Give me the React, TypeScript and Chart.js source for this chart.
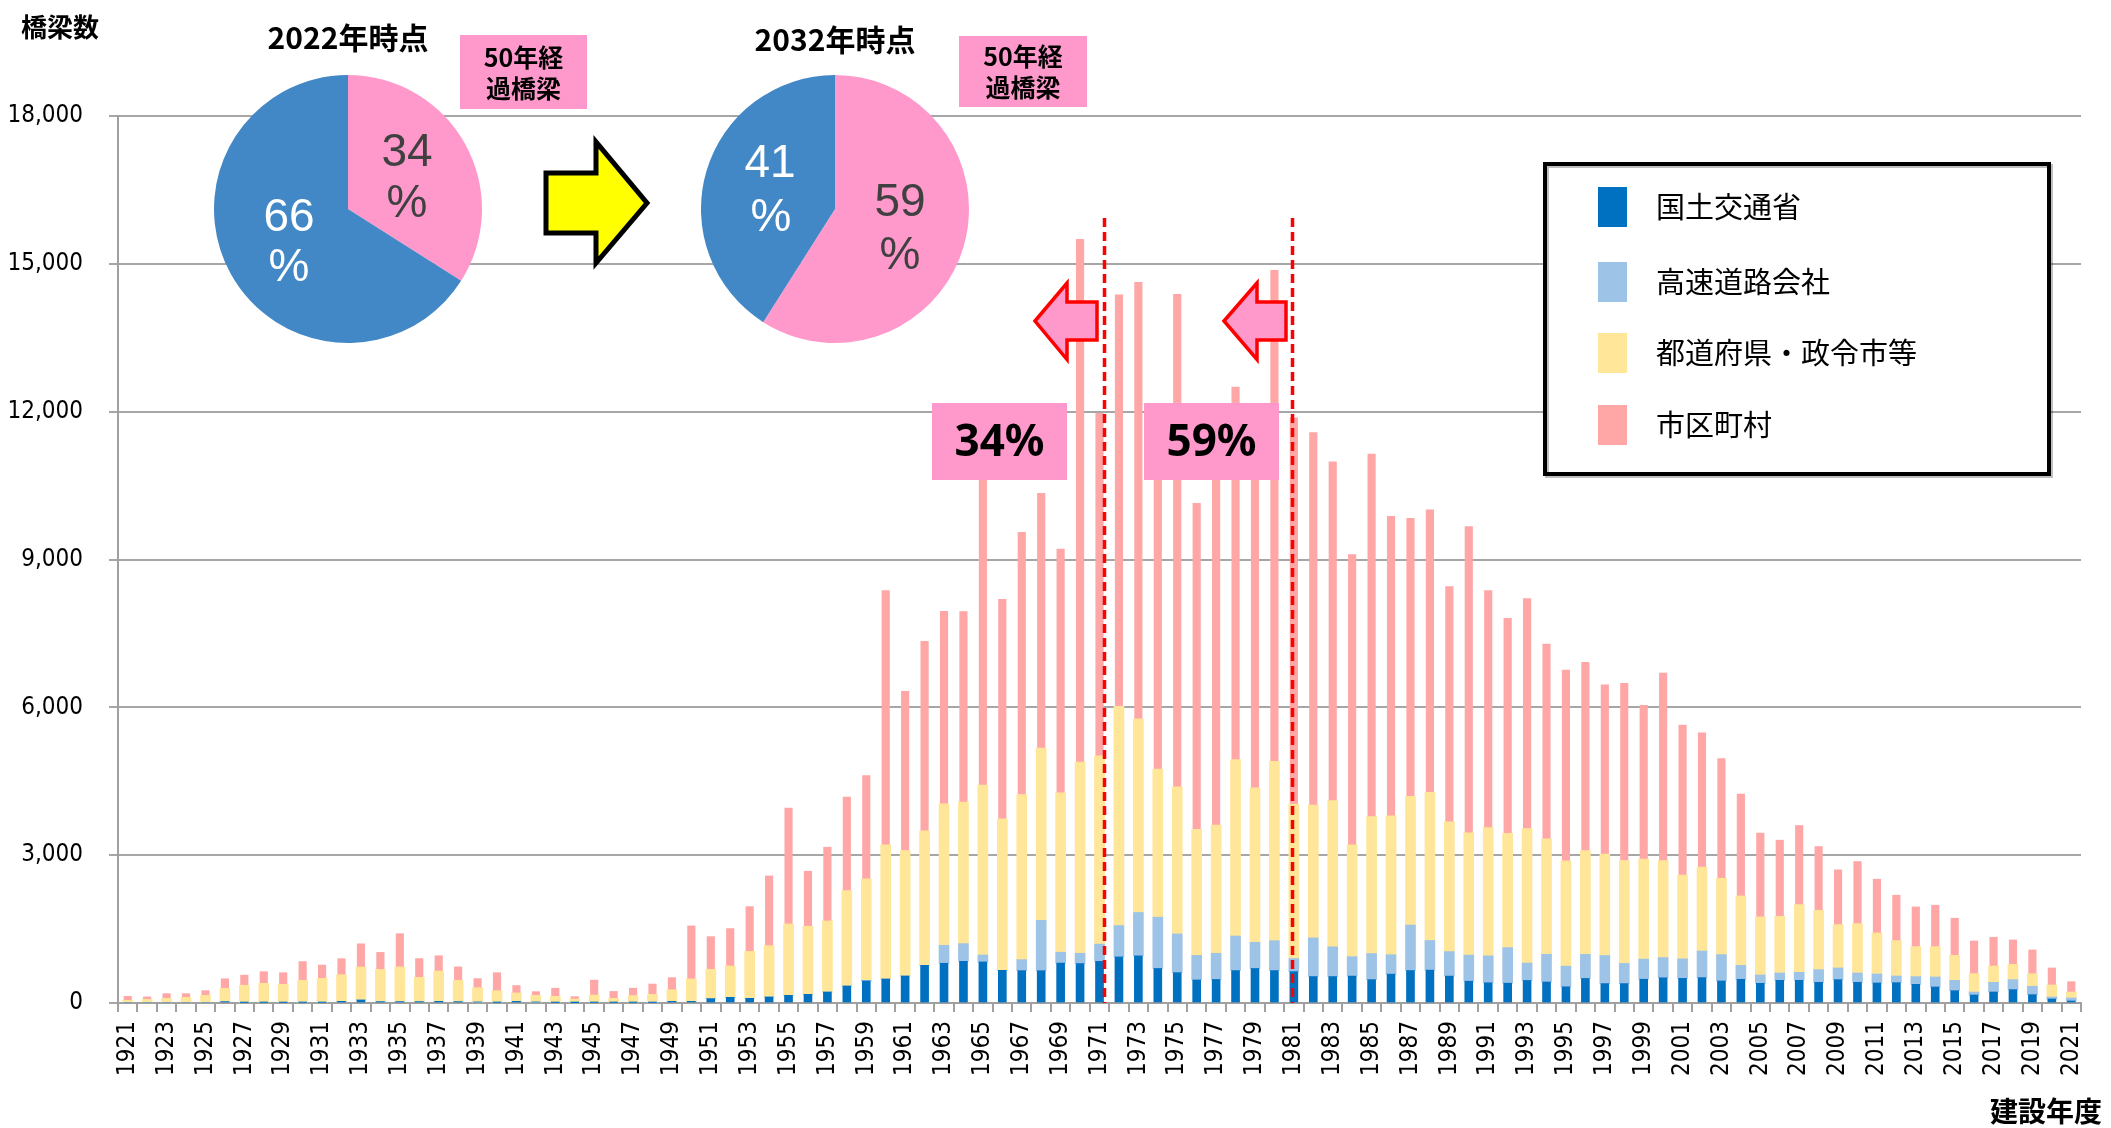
import React, { useEffect, useRef } from 'react';
import { Chart, registerables } from 'chart.js';

Chart.register(...registerables);

// ---- data ----
const years = [
  '1921','1922','1923','1924','1925','1926','1927','1928','1929','1930',
  '1931','1932','1933','1934','1935','1936','1937','1938','1939','1940',
  '1941','1942','1943','1944','1945','1946','1947','1948','1949','1950',
  '1951','1952','1953','1954','1955','1956','1957','1958','1959','1960',
  '1961','1962','1963','1964','1965','1966','1967','1968','1969','1970',
  '1971','1972','1973','1974','1975','1976','1977','1978','1979','1980',
  '1981','1982','1983','1984','1985','1986','1987','1988','1989','1990',
  '1991','1992','1993','1994','1995','1996','1997','1998','1999','2000',
  '2001','2002','2003','2004','2005','2006','2007','2008','2009','2010',
  '2011','2012','2013','2014','2015','2016','2017','2018','2019','2020','2021',
];

const mlit = [
  0, 0, 0, 0, 0, 27, 10, 10, 10, 10,
  10, 34, 61, 27, 27, 27, 34, 27, 20, 10,
  34, 20, 10, 5, 10, 10, 10, 10, 34, 34,
  88, 115, 95, 122, 156, 176, 223, 345, 447, 487,
  548, 765, 806, 846, 833, 663, 656, 655, 810, 800,
  845, 935, 956, 701, 616, 467, 478, 658, 701, 658,
  637, 537, 537, 546, 474, 586, 659, 667, 546, 442,
  410, 402, 458, 426, 329, 498, 394, 394, 482, 511,
  500, 515, 447, 481, 399, 460, 460, 420, 474, 420,
  406, 413, 379, 325, 250, 162, 223, 271, 169, 81, 41,
];

const expressway = [
  0, 0, 0, 0, 0, 0, 0, 0, 0, 0,
  0, 0, 0, 0, 0, 0, 0, 0, 0, 0,
  0, 0, 0, 0, 0, 0, 0, 0, 0, 0,
  0, 0, 0, 0, 0, 0, 0, 0, 13, 0,
  0, 0, 365, 359, 142, 0, 224, 1023, 220, 209,
  350, 637, 881, 1041, 786, 499, 531, 701, 531, 606,
  266, 784, 603, 394, 530, 394, 923, 602, 498, 530,
  546, 722, 353, 562, 418, 490, 570, 409, 409, 411,
  396, 540, 535, 284, 170, 149, 163, 257, 237, 189,
  183, 135, 156, 203, 210, 61, 197, 203, 170, 41, 61,
];

const prefecture = [
  55, 75, 95, 115, 155, 270, 350, 390, 370, 450,
  490, 540, 670, 655, 705, 495, 615, 435, 290, 240,
  170, 135, 125, 75, 150, 85, 140, 165, 235, 455,
  596, 636, 954, 1042, 1448, 1381, 1442, 1936, 2058, 2722,
  2546, 2728, 2871, 2870, 3446, 3074, 3351, 3497, 3237, 3878,
  3820, 4450, 3930, 3005, 2984, 2560, 2602, 3579, 3133, 3642,
  3133, 2695, 2966, 2272, 2779, 2819, 2610, 3004, 2634, 2481,
  2602, 2321, 2731, 2345, 2136, 2104, 2056, 2088, 2032, 1966,
  1698, 1704, 1550, 1408, 1178, 1151, 1374, 1205, 880, 1002,
  833, 718, 609, 616, 508, 373, 331, 311, 257, 244, 121,
];

const municipal = [
  80, 50, 95, 75, 95, 195, 205, 235, 235, 380,
  270, 325, 470, 345, 675, 380, 310, 270, 185, 365,
  150, 75, 165, 50, 305, 140, 150, 210, 245, 1075,
  663, 759, 907, 1415, 2350, 1117, 1497, 1896, 2099, 5159,
  3229, 3846, 3906, 3866, 6579, 4455, 5321, 5170, 4944, 10610,
  6950, 8347, 8857, 6853, 9993, 6616, 7589, 7562, 7535, 9962,
  7837, 7559, 6874, 5887, 7356, 6079, 5646, 5734, 4771, 6216,
  4810, 4361, 4666, 3951, 3871, 3823, 3437, 3598, 3116, 3806,
  3048, 2722, 2430, 2065, 1699, 1544, 1605, 1293, 1110, 1259,
  1090, 921, 806, 840, 752, 663, 583, 495, 480, 345, 210,
];

const seriesNames = ['国土交通省', '高速道路会社', '都道府県・政令市等', '市区町村'];
const seriesColors = ['#0070C0', '#9DC3E6', '#FFE699', '#FFA6A6'];
const yMax = 18000;
const yStep = 3000;

const pie2022 = [34, 66];
const pie2032 = [59, 41];
const pieSliceNames = ['50年経過橋梁', 'その他'];
const pieColors = ['#FF99CC', '#4287C6'];

const CJK = '"Noto Sans CJK JP", sans-serif';
const TICKFONT = '"DejaVu Sans Condensed", "DejaVu Sans", sans-serif';

function drawBlockArrow(ctx: CanvasRenderingContext2D, pts: number[][], fill: string, stroke: string, lw: number) {
  ctx.save();
  ctx.beginPath();
  ctx.moveTo(pts[0][0], pts[0][1]);
  for (let i = 1; i < pts.length; i++) ctx.lineTo(pts[i][0], pts[i][1]);
  ctx.closePath();
  ctx.fillStyle = fill;
  ctx.fill();
  ctx.lineJoin = 'miter';
  ctx.lineWidth = lw;
  ctx.strokeStyle = stroke;
  ctx.stroke();
  ctx.restore();
}

const overlayPlugin = {
  id: 'overlay',
  afterDraw(chart: any) {
    const ctx: CanvasRenderingContext2D = chart.ctx;
    ctx.save();
    ctx.textAlign = 'center';
    ctx.textBaseline = 'middle';
    ctx.fillStyle = '#000';

    // axis titles
    ctx.font = `bold 26px ${CJK}`;
    ctx.fillText('橋梁数', 60, 27);
    ctx.font = `bold 28px ${CJK}`;
    ctx.textAlign = 'right';
    ctx.fillText('建設年度', 2102, 1111);
    ctx.textAlign = 'center';

    // pie titles
    ctx.font = `bold 30px ${CJK}`;
    ctx.fillText('2022年時点', 348, 38);
    ctx.fillText('2032年時点', 835, 40);

    // "50年経過橋梁" boxes
    const boxes = [[460, 35, 127, 74], [959, 36, 128, 71]];
    boxes.forEach(([x, y, w, h]) => {
      ctx.fillStyle = '#FF99CC';
      ctx.fillRect(x, y, w, h);
      ctx.fillStyle = '#000';
      ctx.font = `bold 25px ${CJK}`;
      ctx.fillText('50年経', x + w / 2, y + h / 2 - 15);
      ctx.fillText('過橋梁', x + w / 2, y + h / 2 + 16);
    });

    // yellow arrow
    drawBlockArrow(ctx, [[546, 173], [596, 173], [596, 142], [647, 203], [596, 263], [596, 233], [546, 233]], '#FFFF00', '#000', 5);

    // red dashed lines
    ctx.save();
    ctx.strokeStyle = '#FF0000';
    ctx.lineWidth = 3.5;
    ctx.setLineDash([9, 5]);
    [1104.5, 1292.5].forEach((x) => {
      ctx.beginPath();
      ctx.moveTo(x, 218);
      ctx.lineTo(x, 1003);
      ctx.stroke();
    });
    ctx.restore();

    // pink left arrows
    [[1035, 1067, 1097], [1224, 1257, 1286]].forEach(([tip, back, end]) => {
      drawBlockArrow(ctx, [[tip, 321], [back, 283], [back, 302], [end, 302], [end, 340], [back, 340], [back, 359.5]], '#FF99CC', '#FF0000', 3.5);
    });

    // percent boxes
    [[932, '34%'], [1144, '59%']].forEach(([x, t]) => {
      ctx.fillStyle = '#FF99CC';
      ctx.fillRect(x as number, 403, 135, 77);
      ctx.fillStyle = '#000';
      ctx.font = 'bold 44px "Noto Sans", sans-serif';
      ctx.fillText(t as string, (x as number) + 67.5, 443);
    });

    // legend
    ctx.fillStyle = '#fff';
    ctx.fillRect(1545, 164, 504, 310);
    ctx.strokeStyle = 'rgba(0,0,0,0.25)';
    ctx.lineWidth = 4;
    ctx.strokeRect(1547, 166, 504, 310);
    ctx.strokeStyle = '#000';
    ctx.lineWidth = 4;
    ctx.strokeRect(1545, 164, 504, 310);
    const itemY = [207, 282, 353, 425];
    chart.data.datasets.forEach((ds: any, i: number) => {
      ctx.fillStyle = ds.backgroundColor;
      ctx.fillRect(1598, itemY[i] - 20, 29, 40);
      ctx.fillStyle = '#000';
      ctx.textAlign = 'left';
      ctx.font = `29px ${CJK}`;
      ctx.fillText(ds.label, 1656, itemY[i]);
    });
    ctx.restore();
  },
};

function PieChart(props: { data: number[]; cx: number; cy: number; texts: { t: string; dx: number; dy: number; c: string }[] }) {
  const ref = useRef<HTMLCanvasElement>(null);
  useEffect(() => {
    if (!ref.current) return;
    const labelPlugin = {
      id: 'pieLabels',
      afterDraw(chart: any) {
        const ctx = chart.ctx;
        ctx.save();
        ctx.textAlign = 'center';
        ctx.textBaseline = 'middle';
        ctx.font = '46px "Liberation Sans", Arial, sans-serif';
        props.texts.forEach((o) => {
          ctx.fillStyle = o.c;
          ctx.fillText(o.t, 140 + o.dx, 140 + o.dy);
        });
        ctx.restore();
      },
    };
    const chart = new Chart(ref.current, {
      type: 'pie',
      data: {
        labels: pieSliceNames,
        datasets: [{ data: props.data, backgroundColor: pieColors, borderWidth: 0, hoverOffset: 0, offset: 0 }],
      },
      options: {
        responsive: false,
        animation: false,
        devicePixelRatio: 1,
        events: [],
        layout: { padding: 6 },
        plugins: { legend: { display: false }, tooltip: { enabled: false } },
      },
      plugins: [labelPlugin],
    });
    return () => chart.destroy();
  }, []);
  return (
    <canvas
      ref={ref}
      width={280}
      height={280}
      style={{ position: 'absolute', left: props.cx - 140, top: props.cy - 140, width: 280, height: 280 }}
    />
  );
}

export default function App() {
  const ref = useRef<HTMLCanvasElement>(null);
  useEffect(() => {
    if (!ref.current) return;
    const seriesData = [mlit, expressway, prefecture, municipal];
    const thickness = [8, 10, 10, 7.5];
    const chart = new Chart(ref.current, {
      type: 'bar',
      data: {
        labels: years,
        datasets: seriesNames.map((name, i) => ({
          label: name,
          data: seriesData[i],
          backgroundColor: seriesColors[i],
          borderWidth: 0,
          barThickness: thickness[i],
        })),
      },
      options: {
        responsive: false,
        animation: false,
        devicePixelRatio: 1,
        events: [],
        layout: { padding: { top: 116, right: 30, left: 0, bottom: 0 } },
        plugins: { legend: { display: false }, tooltip: { enabled: false } },
        scales: {
          x: {
            stacked: true,
            afterFit: (s: any) => { s.height = 125; },
            grid: { drawOnChartArea: false, tickLength: 9, color: '#A0A0A0', lineWidth: 2 },
            border: { color: '#A0A0A0', width: 2 },
            ticks: {
              autoSkip: false,
              maxRotation: 90,
              minRotation: 90,
              padding: 9,
              color: '#000',
              font: { family: TICKFONT, size: 24 },
              callback: (_v: any, i: number) => (i % 2 === 0 ? years[i] : ''),
            },
          },
          y: {
            stacked: true,
            min: 0,
            max: yMax,
            afterFit: (s: any) => { s.width = 118; },
            grid: { color: '#A6A6A6', lineWidth: 2, tickLength: 9 },
            border: { color: '#A0A0A0', width: 2 },
            ticks: {
              stepSize: yStep,
              padding: 26,
              color: '#000',
              font: { family: TICKFONT, size: 24 },
              callback: (v: any) => Number(v).toLocaleString('en-US'),
            },
          },
        },
      },
      plugins: [overlayPlugin],
    });
    return () => chart.destroy();
  }, []);

  return (
    <div style={{ position: 'absolute', left: 0, top: 0, width: 2111, height: 1128, background: '#fff', overflow: 'hidden' }}>
      <canvas ref={ref} width={2111} height={1128} style={{ position: 'absolute', left: 0, top: 0, width: 2111, height: 1128 }} />
      <PieChart
        data={pie2022}
        cx={348}
        cy={208.5}
        texts={[
          { t: '34', dx: 59, dy: -56, c: '#404040' },
          { t: '%', dx: 59, dy: -5, c: '#404040' },
          { t: '66', dx: -59, dy: 9, c: '#fff' },
          { t: '%', dx: -59, dy: 59, c: '#fff' },
        ]}
      />
      <PieChart
        data={pie2032}
        cx={835}
        cy={208.5}
        texts={[
          { t: '59', dx: 65, dy: -6, c: '#404040' },
          { t: '%', dx: 65, dy: 47, c: '#404040' },
          { t: '41', dx: -65, dy: -45, c: '#fff' },
          { t: '%', dx: -64, dy: 9, c: '#fff' },
        ]}
      />
    </div>
  );
}
